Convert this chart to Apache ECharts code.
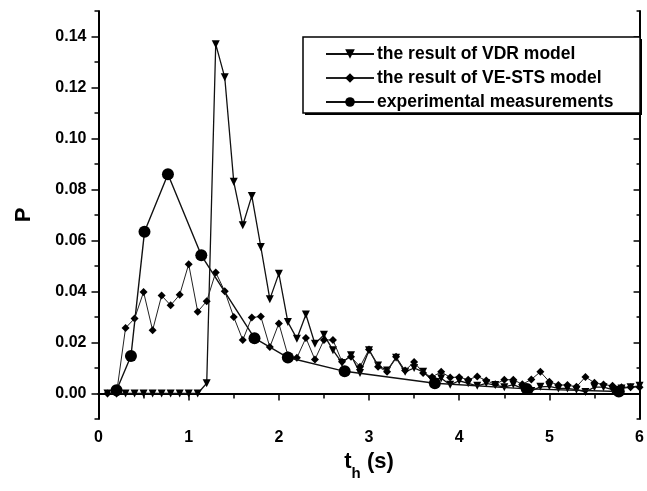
<!DOCTYPE html>
<html>
<head>
<meta charset="utf-8">
<script src="https://cdn.jsdelivr.net/npm/echarts@6/dist/echarts.min.js"></script>
<style>
html,body{margin:0;padding:0;background:#fff;}
#chart{width:647px;height:491px;}
</style>
</head>
<body>
<div id="chart"></div>
<script>
// model time grid (s)
const tModel = [0.1,0.2,0.3,0.4,0.5,0.6,0.7,0.8,0.9,1.0,
  1.1,1.2,1.3,1.4,1.5,1.6,1.7,1.8,1.9,2.0,
  2.1,2.2,2.3,2.4,2.5,2.6,2.7,2.8,2.9,3.0,
  3.1,3.2,3.3,3.4,3.5,3.6,3.7,3.8,3.9,4.0,
  4.1,4.2,4.3,4.4,4.5,4.6,4.7,4.8,4.9,5.0,
  5.1,5.2,5.3,5.4,5.5,5.6,5.7,5.8,5.9,6.0];
// the result of VDR model
const vdr = [0,0,0,0,0,0,0,0,0,0,
  0,0.004,0.137,0.124,0.083,0.066,0.0775,0.0575,0.037,0.047,
  0.028,0.0215,0.031,0.0195,0.023,0.017,0.012,0.015,0.008,0.017,
  0.011,0.009,0.014,0.0085,0.010,0.0085,0.0052,0.006,0.0034,0.005,
  0.004,0.003,0.004,0.0033,0.0025,0.0035,0.002,0.001,0.0026,0.0028,
  0.002,0.002,0.0015,0.0006,0.0025,0.0025,0.0015,0.002,0.0025,0.003];
// the result of VE-STS model
const vests = [0,0,0.0257,0.0294,0.0398,0.0248,0.0384,0.0346,0.0387,0.0507,
  0.0321,0.0362,0.0475,0.0401,0.030,0.021,0.0298,0.0302,0.0182,0.0275,
  0.015,0.014,0.0218,0.0133,0.021,0.021,0.0125,0.0144,0.0105,0.0173,
  0.0105,0.0085,0.0144,0.009,0.0124,0.008,0.0065,0.0085,0.0063,0.0064,
  0.0054,0.0067,0.0051,0.0036,0.0054,0.0054,0.0036,0.0055,0.0085,0.0046,
  0.0033,0.0033,0.0026,0.0065,0.0042,0.0035,0.003,0.0025,0.0025,0.0025];
// experimental measurements
const tExp = [0.2,0.36,0.51,0.77,1.14,1.73,2.10,2.73,3.73,4.75,5.77];
const pExp = [0.0013,0.0147,0.0634,0.086,0.0542,0.0217,0.0141,0.0087,0.004,0.0018,0.0008];

const seriesNames = ['the result of VDR model','the result of VE-STS model','experimental measurements'];
const yMajor = [0,0.02,0.04,0.06,0.08,0.10,0.12,0.14];
const yMinor = [-0.01,0.01,0.03,0.05,0.07,0.09,0.11,0.13,0.15];

const pair = (xs, ys) => xs.map((x, i) => [x, ys[i]]);
const FONT = '"Liberation Sans", Arial, sans-serif';
const downTri = 'path://M0,0 L10,0 L5,9 Z';

const chart = echarts.init(document.getElementById('chart'), null, {renderer: 'canvas'});
const axisLine = {show: true, lineStyle: {color: '#000', width: 2}};
const tickStyle = {color: '#000', width: 1.5};

chart.setOption({
  animation: false,
  backgroundColor: '#fff',
  grid: {left: 98.5, right: 2, top: 11, bottom: 72, containLabel: false},
  xAxis: [{
    type: 'value', min: 0, max: 6, interval: 1, position: 'bottom',
    axisLine: axisLine,
    axisTick: {show: true, length: 7, lineStyle: tickStyle},
    minorTick: {show: true, splitNumber: 2, length: 4, lineStyle: tickStyle},
    splitLine: {show: false}, minorSplitLine: {show: false},
    axisLabel: {color: '#000', fontSize: 16, fontWeight: 'bold', fontFamily: FONT, margin: 11},
    name: '{a|t}{b|h}{a| (s)}',
    nameLocation: 'middle', nameGap: 32,
    nameTextStyle: {
      rich: {
        a: {fontSize: 22, fontWeight: 'bold', fontFamily: FONT, color: '#000', lineHeight: 30, verticalAlign: 'top'},
        b: {fontSize: 15, fontWeight: 'bold', fontFamily: FONT, color: '#000', lineHeight: 30, verticalAlign: 'bottom', padding: [12, 0, 0, 0]}
      }
    }
  }, {
    type: 'value', min: 0, max: 6, interval: 0.5, position: 'top',
    axisLine: axisLine,
    axisTick: {show: true, inside: true, length: 5, lineStyle: tickStyle},
    axisLabel: {show: false}, splitLine: {show: false}
  }],
  yAxis: [{
    type: 'value', min: -0.01, max: 0.15, position: 'left',
    axisLine: axisLine,
    axisTick: {show: true, length: 7, lineStyle: tickStyle, customValues: yMajor},
    axisLabel: {color: '#000', fontSize: 16, fontWeight: 'bold', fontFamily: FONT, margin: 12,
      customValues: yMajor, formatter: v => v.toFixed(2)},
    splitLine: {show: false},
    name: 'P', nameLocation: 'middle', nameGap: 64, nameRotate: 90,
    nameTextStyle: {fontSize: 22, fontWeight: 'bold', fontFamily: FONT, color: '#000'}
  }, {
    type: 'value', min: -0.01, max: 0.15, position: 'left', offset: 0,
    axisLine: {show: false},
    axisTick: {show: true, length: 4, lineStyle: tickStyle, customValues: yMinor},
    axisLabel: {show: false}, splitLine: {show: false}
  }, {
    type: 'value', min: -0.01, max: 0.15, position: 'right',
    axisLine: axisLine,
    axisTick: {show: true, inside: true, length: 6, lineStyle: tickStyle, customValues: yMajor},
    axisLabel: {show: false}, splitLine: {show: false}
  }, {
    type: 'value', min: -0.01, max: 0.15, position: 'right', offset: 0,
    axisLine: {show: false},
    axisTick: {show: true, inside: true, length: 3, lineStyle: tickStyle, customValues: yMinor},
    axisLabel: {show: false}, splitLine: {show: false}
  }],
  legend: {
    orient: 'vertical', left: 325, top: 45, z: 20,
    itemWidth: 48, itemHeight: 12, itemGap: 6, padding: 0,
    data: seriesNames,
    textStyle: {color: '#000', fontSize: 17.5, fontWeight: 'bold', fontFamily: FONT, lineHeight: 18, padding: [0, 0, 0, -2]}
  },
  graphic: [
    {type: 'rect', shape: {x: 305, y: 39, width: 337, height: 76}, style: {fill: '#000'}, z: 8},
    {type: 'rect', shape: {x: 303, y: 37, width: 337, height: 76}, style: {fill: '#fff', stroke: '#000', lineWidth: 1.5}, z: 9}
  ],
  series: [{
    name: seriesNames[0], type: 'line', data: pair(tModel, vdr),
    symbol: downTri, symbolSize: [8, 8], showAllSymbol: true,
    lineStyle: {color: '#111', width: 1.3},
    itemStyle: {color: '#000'}, z: 3
  }, {
    name: seriesNames[1], type: 'line', data: pair(tModel, vests),
    symbol: 'diamond', symbolSize: 8, showAllSymbol: true,
    lineStyle: {color: '#222', width: 1},
    itemStyle: {color: '#000'}, z: 4
  }, {
    name: seriesNames[2], type: 'line', data: pair(tExp, pExp),
    symbol: 'circle', symbolSize: 12, showAllSymbol: true,
    lineStyle: {color: '#111', width: 1.4},
    itemStyle: {color: '#000'}, z: 5
  }]
});
</script>
</body>
</html>
